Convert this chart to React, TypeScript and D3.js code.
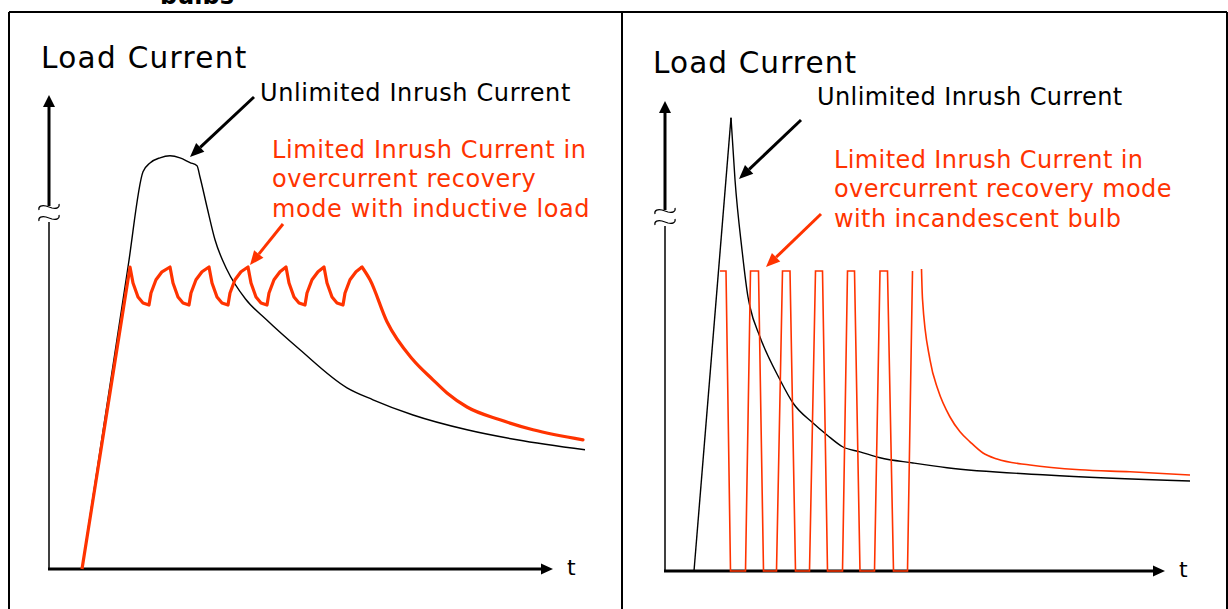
// @ts-nocheck
import * as d3 from "d3";

// time (arbitrary units) vs load current (arbitrary units)
const leftUnlimited = [
  [6.6, 0], [15.8, 75.5], [18.8, 99.3], [20.2, 101.5], [22.2, 102.8], [24.2, 103.3],
  [26.2, 102.8], [28.2, 101.6], [29.6, 100.8], [30.2, 98], [31.6, 90.5], [33.2, 82.3],
  [35.6, 74.8], [39.3, 67.5], [43.5, 62.3], [50.2, 54.8], [59.6, 45.3], [64.8, 42.3],
  [72.8, 38.5], [83.6, 34.8], [93.6, 32.3], [107.2, 29.8],
];

const leftLimitedTeeth = [
  [6.6, 0], [16.2, 75.5],
  [16.8, 71.5], [17.8, 68], [18.8, 66.5], [20, 66], [20.4, 69], [21.4, 72.3], [22.6, 74.3], [24.2, 75.5],
  [24.8, 71.5], [25.8, 68], [26.8, 66.5], [28, 66], [28.4, 69], [29.4, 72.3], [30.6, 74.3], [32, 75.5],
  [32.6, 71.5], [33.6, 68], [34.6, 66.5], [35.8, 66], [36.2, 69], [37.2, 72.3], [38.4, 74.3], [39.8, 75.5],
  [40.4, 71.5], [41.4, 68], [42.4, 66.5], [43.6, 66], [44, 69], [45, 72.3], [46.2, 74.3], [47.4, 75.5],
  [48, 71.5], [49, 68], [50, 66.5], [51.2, 66], [51.6, 69], [52.6, 72.3], [53.8, 74.3], [55, 75.5],
  [55.6, 71.5], [56.6, 68], [57.6, 66.5], [58.8, 66], [59.2, 69], [60.2, 72.3], [61.4, 74.3], [62.6, 75.5],
];
const leftLimitedRecovery = [
  [62.6, 75.5], [64.2, 72.3], [67.6, 61.8], [72.8, 52.3], [76.8, 47.3], [79.6, 44], [83.6, 40.5],
  [90.2, 37.3], [96.8, 34.8], [106.8, 32.3],
];

const rightUnlimitedRise = [[5.8, 0], [13.2, 113.3]];
const rightUnlimitedDecay = [
  [13.2, 113.3], [14, 97.8], [15.4, 80.3], [16.6, 68.5], [17, 66], [19, 58.5], [23, 47.8],
  [25.6, 42], [29.6, 37], [32.4, 34], [35.6, 31], [39, 29.8], [43, 28.3], [49.6, 27],
  [56.4, 25.8], [76.4, 24], [105, 22.5],
];

const rightPulses = [
  [11, 75], [12.2, 75], [13.1, 0], [16.1, 0], [17.1, 75], [18.7, 75], [19.7, 0], [22.3, 0],
  [23.5, 75], [25, 75], [26.1, 0], [28.9, 0], [30.1, 75], [31.5, 75], [32.5, 0], [35.5, 0],
  [36.5, 75], [37.9, 75], [39, 0], [41.9, 0], [43, 75], [44.5, 75], [45.7, 0], [48.5, 0],
  [49.5, 75],
];
const rightRecovery = [
  [51.3, 75.5], [51.5, 68], [53, 52.8], [54.6, 45.3], [57, 38.5], [59, 34.8], [61, 32.3],
  [63.6, 29.5], [66.4, 28], [73, 26.5], [83, 25.3], [93, 24.8], [105, 24],
];

const titleText = "Load Current";
const unlimitedText = "Unlimited Inrush Current";
const leftLimitedText = ["Limited Inrush Current in", "overcurrent recovery", "mode with inductive load"];
const rightLimitedText = ["Limited Inrush Current in", "overcurrent recovery mode", "with incandescent bulb"];

const RED = "#ff3300";
const FONT = "'DejaVu Sans', Verdana, sans-serif";

const leftX = d3.scaleLinear().domain([0, 100]).range([49, 549]);
const leftY = d3.scaleLinear().domain([0, 100]).range([569, 169]);
const rightX = d3.scaleLinear().domain([0, 100]).range([665, 1165]);
const rightY = d3.scaleLinear().domain([0, 100]).range([571, 171]);

function Arrow({ x1, y1, x2, y2, color, w = 3, len = 14, half = 6 }) {
  const a = Math.atan2(y2 - y1, x2 - x1);
  const bx = x2 - len * Math.cos(a);
  const by = y2 - len * Math.sin(a);
  const px = -Math.sin(a) * half;
  const py = Math.cos(a) * half;
  return (
    <g>
      <line x1={x1} y1={y1} x2={bx} y2={by} stroke={color} strokeWidth={w} />
      <polygon points={`${x2},${y2} ${bx + px},${by + py} ${bx - px},${by - py}`} fill={color} />
    </g>
  );
}

function Breaks({ x, y }) {
  // the little "cut" squiggles on the y axis
  const s = (dy) => `M${x - 10},${y + dy + 3} C${x - 11},${y + dy - 1} ${x - 7},${y + dy - 2} ${x - 3},${y + dy - 1} L${x + 3},${y + dy + 1} C${x + 7},${y + dy + 2} ${x + 11},${y + dy + 1} ${x + 10},${y + dy - 3}`;
  return (
    <g fill="none" stroke="#000" strokeWidth={1.2}>
      <path d={s(-5)} />
      <path d={s(6)} />
    </g>
  );
}

function Axes({ x, y, tMax, iMax, brk }) {
  const x0 = x(0), y0 = y(0);
  const tipX = x(tMax), tipY = y(iMax);
  const by = y(brk);
  return (
    <g>
      <line x1={x0} y1={tipY + 10} x2={x0} y2={by - 6} stroke="#000" strokeWidth={3} />
      <polygon points={`${x0},${tipY} ${x0 - 6},${tipY + 12} ${x0 + 6},${tipY + 12}`} fill="#000" />
      <Breaks x={x0} y={by} />
      <line x1={x0} y1={by + 10} x2={x0} y2={y0} stroke="#000" strokeWidth={1.5} />
      <line x1={x0 - 1} y1={y0} x2={tipX - 11} y2={y0} stroke="#000" strokeWidth={3} />
      <polygon points={`${tipX},${y0} ${tipX - 12},${y0 - 5.5} ${tipX - 12},${y0 + 5.5}`} fill="#000" />
      <text x={tipX + 14} y={y0 + 6} fontSize={22} fontFamily={FONT}>t</text>
    </g>
  );
}

export default function App() {
  const lineL = d3.line().x((d) => leftX(d[0])).y((d) => leftY(d[1]));
  const lineR = d3.line().x((d) => rightX(d[0])).y((d) => rightY(d[1]));
  const smoothL = d3.line().x((d) => leftX(d[0])).y((d) => leftY(d[1])).curve(d3.curveMonotoneX);
  const smoothR = d3.line().x((d) => rightX(d[0])).y((d) => rightY(d[1])).curve(d3.curveMonotoneX);

  return (
    <svg width={1228} height={609} style={{ position: "absolute", left: 0, top: 0, background: "#fff" }}>
      <text x={160} y={4} fontSize={24} fontWeight="bold" fontFamily={FONT}>bulbs</text>

      {/* frame */}
      <g stroke="#000" strokeWidth={2}>
        <line x1={9} y1={12} x2={1227} y2={12} />
        <line x1={9} y1={12} x2={9} y2={609} />
        <line x1={622} y1={12} x2={622} y2={609} />
        <line x1={1227} y1={12} x2={1227} y2={609} />
      </g>

      {/* left panel */}
      <text x={41} y={68} fontSize={29.5} letterSpacing={1.3} fontFamily={FONT}>{titleText}</text>
      <Axes x={leftX} y={leftY} tMax={100.8} iMax={118.5} brk={89.25} />
      <path d={smoothL(leftUnlimited)} fill="none" stroke="#000" strokeWidth={1.4} />
      <path d={lineL(leftLimitedTeeth)} fill="none" stroke={RED} strokeWidth={3.2} strokeLinejoin="round" />
      <path d={smoothL(leftLimitedRecovery)} fill="none" stroke={RED} strokeWidth={3.2} strokeLinecap="round" />
      <text x={260} y={101} fontSize={24} letterSpacing={0.62} fontFamily={FONT}>{unlimitedText}</text>
      <Arrow x1={254} y1={97} x2={190} y2={157} color="#000" />
      {leftLimitedText.map((t, i) => (
        <text key={i} x={272} y={158 + i * 29.3} fontSize={24} letterSpacing={0.6} fill={RED} fontFamily={FONT}>{t}</text>
      ))}
      <Arrow x1={283} y1={224} x2={250} y2={265} color={RED} />

      {/* right panel */}
      <text x={653} y={73} fontSize={29.5} letterSpacing={1.1} fontFamily={FONT}>{titleText}</text>
      <Axes x={rightX} y={rightY} tMax={100} iMax={117.5} brk={88.75} />
      <path d={lineR(rightUnlimitedRise)} fill="none" stroke="#000" strokeWidth={1.4} />
      <path d={smoothR(rightUnlimitedDecay)} fill="none" stroke="#000" strokeWidth={1.4} />
      <path d={lineR(rightPulses)} fill="none" stroke={RED} strokeWidth={1.6} />
      <path d={smoothR(rightRecovery)} fill="none" stroke={RED} strokeWidth={1.6} />
      <text x={817} y={105} fontSize={24} letterSpacing={0.4} fontFamily={FONT}>{unlimitedText}</text>
      <Arrow x1={801} y1={120} x2={739} y2={179} color="#000" />
      {rightLimitedText.map((t, i) => (
        <text key={i} x={834} y={168 + i * 29.3} fontSize={24} letterSpacing={0.4} fill={RED} fontFamily={FONT}>{t}</text>
      ))}
      <Arrow x1={821} y1={214} x2={766} y2={267} color={RED} />
    </svg>
  );
}
